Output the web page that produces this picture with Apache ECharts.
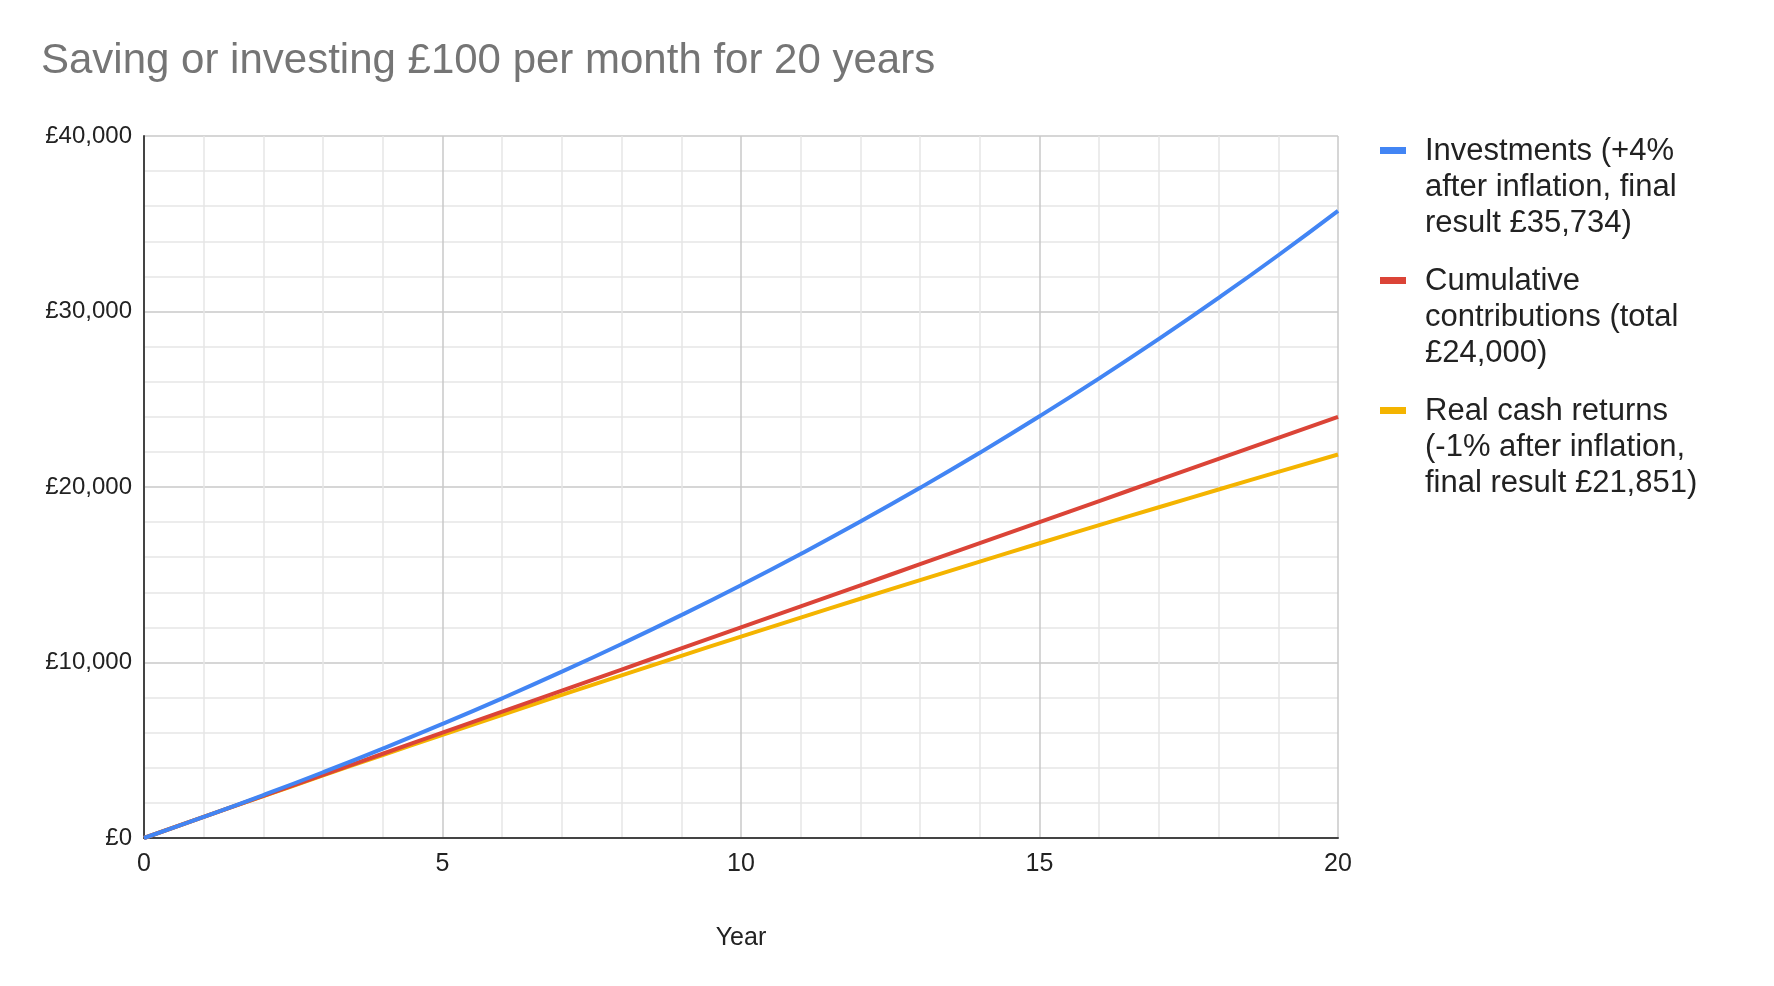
<!DOCTYPE html><html><head><meta charset="utf-8"><script src="https://cdn.jsdelivr.net/npm/echarts@6/dist/echarts.min.js"></script>
<style>body{margin:0}#c{width:1774px;height:986px}</style></head><body><div id="c"></div><script>
const years=[0,1,2,3,4,5,6,7,8,9,10,11,12,13,14,15,16,17,18,19,20];
const investments=[0,1200,2448,3746,5096,6500,7960,9478,11057,12699,14407,16184,18031,19952,21950,24028,26189,28436,30774,33205,35734];
const contributions=[0,1200,2400,3600,4800,6000,7200,8400,9600,10800,12000,13200,14400,15600,16800,18000,19200,20400,21600,22800,24000];
const cash=[0,1200,2388,3564,4728,5881,7022,8152,9270,10378,11474,12559,13634,14697,15750,16793,17825,18847,19858,20860,21851];
const names=['Investments (+4%\nafter inflation, final\nresult £35,734)','Cumulative\ncontributions (total\n£24,000)','Real cash returns\n(-1% after inflation,\nfinal result £21,851)'];
const colors=['#4285f4','#db4437','#f4b400'];
const data=[investments,contributions,cash];
const F='"Liberation Sans", Arial, sans-serif';
const legendTops=[133,263,393];
const graphic=[];
names.forEach((n,i)=>{
 graphic.push({type:'rect',left:1380,top:legendTops[i]+14,shape:{width:26,height:7},style:{fill:colors[i]}});
 graphic.push({type:'text',left:1425,top:legendTops[i],style:{text:n,font:'31px '+F,fill:'#222',lineHeight:36}});
});
const ch=echarts.init(document.getElementById('c'));
ch.setOption({
 animation:false,
 title:{text:'Saving or investing £100 per month for 20 years',left:36,top:35,textStyle:{fontFamily:F,fontWeight:'normal',fontSize:42,color:'#757575'}},
 graphic:graphic,
 grid:{left:144,top:136,right:436,bottom:148},
 xAxis:{type:'value',min:0,max:20,interval:5,name:'Year',nameLocation:'middle',nameGap:88,
  nameTextStyle:{fontFamily:F,fontSize:25,color:'#222'},
  axisLine:{lineStyle:{color:'#444',width:2}},axisTick:{show:false},
  axisLabel:{fontFamily:F,fontSize:25,color:'#222',margin:14},
  splitLine:{lineStyle:{color:'#c8c8c8',width:1.5}},
  minorTick:{show:false,splitNumber:5},minorSplitLine:{show:true,lineStyle:{color:'#e6e6e6',width:1.5}}},
 yAxis:{type:'value',min:0,max:40000,interval:10000,
  axisLine:{show:true,lineStyle:{color:'#444',width:2}},axisTick:{show:false},
  axisLabel:{fontFamily:F,fontSize:24,color:'#222',margin:12,formatter:v=>'£'+v.toLocaleString('en-GB')},
  splitLine:{lineStyle:{color:'#c8c8c8',width:1.5}},
  minorTick:{show:false,splitNumber:5},minorSplitLine:{show:true,lineStyle:{color:'#e6e6e6',width:1.5}}},
 series:data.map((d,i)=>({name:names[i],type:'line',data:years.map((y,j)=>[y,d[j]]),smooth:true,showSymbol:false,
  lineStyle:{width:4,color:colors[i]},itemStyle:{color:colors[i]},z:10-i}))
});
</script></body></html>
